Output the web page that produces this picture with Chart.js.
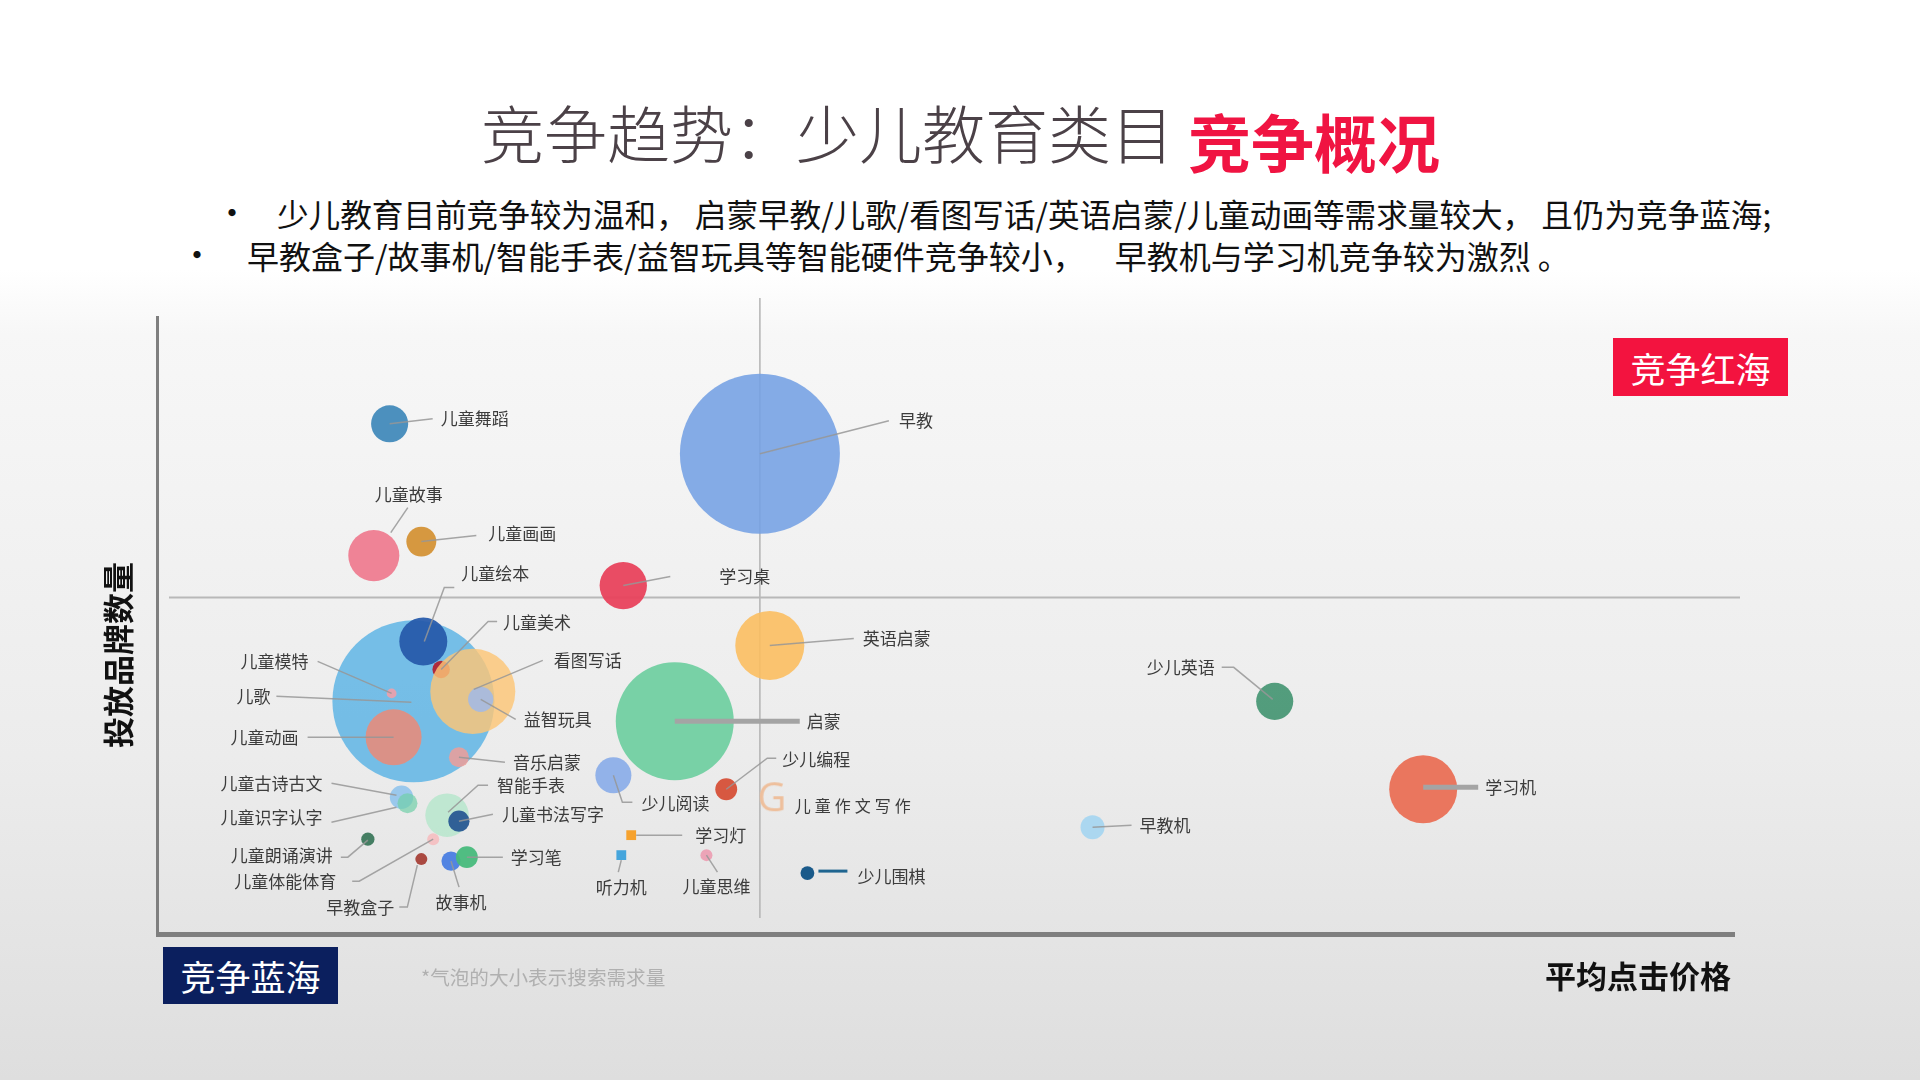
<!DOCTYPE html>
<html lang="zh-CN">
<head>
<meta charset="utf-8">
<title>竞争趋势：少儿教育类目竞争概况</title>
<script src="https://cdn.jsdelivr.net/npm/chart.js@4.4.1/dist/chart.umd.min.js"></script>
<style>
  html, body { margin: 0; padding: 0; }
  body {
    width: 1920px; height: 1080px; position: relative; overflow: hidden;
    font-family: "Noto Sans CJK SC", "Noto Sans", sans-serif;
    background: linear-gradient(to bottom, #ffffff 0%, #ffffff 25%, #f7f7f7 31%, #ececec 70%, #dedede 100%);
  }
  #wrap { position: absolute; left: 0; top: 0; width: 1920px; height: 1080px; }
  .abs { position: absolute; white-space: nowrap; }
  .t-gray { left: 481px; top: 99px; font-size: 63px; line-height: 63px; font-weight: 300; color: #4b4147; }
  .t-red { left: 1188px; top: 108px; font-size: 63px; line-height: 63px; font-weight: 700; color: #f01442; }
  .bl { line-height: 32px; color: #111; }
  .dot { font-size: 34px; }
  .box { display: flex; align-items: center; justify-content: center; color: #fff; font-size: 35px; }
  .red { left: 1613px; top: 338px; width: 175px; height: 58px; background: #f3133f; }
  .blue { left: 163px; top: 947px; width: 175px; height: 57px; background: #0b1f5e; }
  .note { left: 421px; top: 966px; font-size: 19.6px; line-height: 22px; color: #b0b0b0; }
  .xt { left: 1545px; top: 958px; font-size: 31px; line-height: 34px; font-weight: 700; color: #111; }
  .yt { left: 117px; top: 655px; font-size: 31px; line-height: 34px; font-weight: 700; color: #111;
        transform: translate(-50%, -50%) rotate(-90deg); }
</style>
</head>
<body>
<div class="abs t-gray">竞争趋势：少儿教育类目</div>
<div class="abs t-red">竞争概况</div>
<div class="abs bl dot" style="left:215px;top:196px;">•</div>
<div class="abs bl" style="left:277px;top:197px;font-size:31.6px;">少儿教育目前竞争较为温和， 启蒙早教/儿歌/看图写话/英语启蒙/儿童动画等需求量较大， 且仍为竞争蓝海;</div>
<div class="abs bl dot" style="left:180px;top:238px;">•</div>
<div class="abs bl" style="left:247px;top:239px;font-size:32px;">早教盒子/故事机/智能手表/益智玩具等智能硬件竞争较小，<span style="margin-left:30px;">早教机与学习机竞争较为激烈 。</span></div>
<div id="wrap"><canvas id="chart"></canvas></div>
<div class="abs box red">竞争红海</div>
<div class="abs box blue">竞争蓝海</div>
<div class="abs note">*气泡的大小表示搜索需求量</div>
<div class="abs xt">平均点击价格</div>
<div class="abs yt">投放品牌数量</div>
<script>
// 类目 (画的顺序: 大气泡在下)
var names = ['早教', '儿歌', '启蒙', '儿童绘本', '儿童美术', '看图写话', '儿童动画', '儿童模特', '益智玩具', '音乐启蒙',
             '英语启蒙', '学习桌', '儿童舞蹈', '儿童故事', '儿童画画', '少儿阅读', '少儿编程', '儿童作文写作', '少儿围棋', '学习灯',
             '听力机', '儿童思维', '少儿英语', '学习机', '早教机', '儿童古诗古文', '儿童识字认字', '智能手表', '儿童书法写字', '儿童朗诵演讲',
             '儿童体能体育', '早教盒子', '故事机', '学习笔'];
// 平均点击价格 (x)
var price = [3.05, 1.30, 2.62, 1.35, 1.44, 1.60, 1.20, 1.19, 1.64, 1.53,
             3.10, 2.36, 1.18, 1.10, 1.34, 2.31, 2.88, 3.11, 3.29, 2.40,
             2.35, 2.78, 5.65, 6.40, 4.73, 1.24, 1.27, 1.47, 1.53, 1.07,
             1.40, 1.34, 1.49, 1.57];
// 投放品牌数量 (y)
var brands = [242, 118, 108, 148, 134, 123, 100, 122, 119, 90,
              146, 176, 257, 191, 198, 81, 74, 69, 32, 51,
              41, 41, 118, 74, 55, 70, 67, 61, 58, 49,
              49, 39, 38, 40];
// 搜索需求量 (气泡大小)
var demand = [1600, 1640, 870, 144, 19, 452, 196, 6, 40, 25,
              298, 140, 86, 163, 56, 81, 30, 16, 12, 12,
              12, 9, 86, 289, 36, 34, 25, 118, 28, 11,
              9, 9, 23, 30];
// 分界线 (均值)
var avgPrice = 3.05;
var avgBrands = 170;

var colors = ['rgba(116,160,228,0.88)', 'rgba(110,186,230,0.95)', 'rgba(110,206,160,0.92)', 'rgba(40,92,172,0.95)',
              'rgba(178,36,52,0.95)', 'rgba(252,198,118,0.82)', 'rgba(236,138,118,0.85)', 'rgba(240,160,170,0.9)',
              'rgba(168,186,222,0.95)', 'rgba(238,158,152,0.85)', 'rgba(251,190,96,0.9)', 'rgba(232,66,92,0.95)',
              'rgba(66,138,186,0.95)', 'rgba(238,124,144,0.95)', 'rgba(212,146,54,0.95)', 'rgba(138,172,232,0.92)',
              'rgba(214,80,56,0.95)', '#f0c6a4', '#1a5a8a', '#f6a22e', '#45a5dc', 'rgba(236,160,180,0.95)',
              'rgba(74,152,118,0.95)', 'rgba(234,112,86,0.95)', 'rgba(168,214,240,0.95)', 'rgba(150,198,236,0.95)',
              'rgba(112,206,168,0.7)', 'rgba(176,230,200,0.75)', 'rgba(40,88,146,0.95)', 'rgba(60,120,92,0.95)',
              'rgba(245,190,192,0.9)', 'rgba(166,64,56,0.95)', 'rgba(74,126,226,0.95)', 'rgba(72,186,124,0.95)'];

// "G" 标记 (儿童作文写作)
var gMark = document.createElement('canvas');
gMark.width = 44; gMark.height = 48;
var gc = gMark.getContext('2d');
gc.font = '40px "Open Sans", "Noto Sans", sans-serif';
gc.fillStyle = '#eebf9c';
gc.textAlign = 'center';
gc.textBaseline = 'middle';
gc.fillText('G', 22, 25);

var shapes = names.map(function(n){
    if (n == '学习灯' || n == '听力机') return 'rect';
    if (n == '儿童作文写作') return gMark;
    return 'circle';
});

// 标签与引线 (相对气泡中心, px)
var labelLayout = [
    {lead: [[0,0],[129,-33]], at: [139,-33], align: 'left'},
    {lead: [[-2,1],[-137,-5]], at: [-143,-5], align: 'right'},
    {lead: [[0,0],[125,0]], at: [132,0], align: 'left', w: 5},
    {lead: [[1,0],[21,-54],[31,-54]], at: [38,-68], align: 'left'},
    {lead: [[0,0],[47,-48],[56,-48]], at: [62,-47], align: 'left'},
    {lead: [[1,-2],[70,-31]], at: [81,-31], align: 'left'},
    {lead: [[0,0],[-86,0]], at: [-95,0], align: 'right'},
    {lead: [[0,0],[-74,-32]], at: [-83,-32], align: 'right'},
    {lead: [[0,0],[35,20]], at: [43,20], align: 'left'},
    {lead: [[0,0],[46,5]], at: [54,5], align: 'left'},
    {lead: [[0,0],[84,-7]], at: [93,-7], align: 'left'},
    {lead: [[0,0],[47,-9]], at: [96,-9], align: 'left'},
    {lead: [[0,0],[43,-5]], at: [51,-5], align: 'left'},
    {lead: [[17,-23],[34,-48]], at: [35,-61], align: 'center'},
    {lead: [[0,0],[55,-6]], at: [67,-8], align: 'left'},
    {lead: [[0,0],[9,27],[19,27]], at: [28,28], align: 'left'},
    {lead: [[0,0],[41,-31],[50,-31]], at: [56,-30], align: 'left'},
    {lead: [], at: [23,7], align: 'left', spaced: 20},
    {lead: [[11,-2],[40,-2]], at: [50,3], align: 'left', w: 3, c: '#1f6590'},
    {lead: [[5,0],[51,0]], at: [64,0], align: 'left'},
    {lead: [[0,5],[-3,17]], at: [0,32], align: 'center'},
    {lead: [[0,0],[11,17]], at: [10,31], align: 'center'},
    {lead: [[-2,-2],[-41,-34],[-53,-34]], at: [-60,-34], align: 'right'},
    {lead: [[0,-2],[55,-2]], at: [62,-2], align: 'left', w: 5},
    {lead: [[0,0],[39,-2]], at: [47,-2], align: 'left'},
    {lead: [[-5,-2],[-70,-14]], at: [-79,-14], align: 'right'},
    {lead: [[-11,4],[-76,19]], at: [-85,14], align: 'right'},
    {lead: [[1,-3],[31,-30],[41,-30]], at: [50,-30], align: 'left'},
    {lead: [[0,0],[34,-7]], at: [43,-7], align: 'left'},
    {lead: [[0,1],[-20,18],[-27,18]], at: [-35,16], align: 'right'},
    {lead: [[0,0],[-74,42],[-81,42]], at: [-97,42], align: 'right'},
    {lead: [[-4,6],[-14,48],[-22,48]], at: [-27,48], align: 'right'},
    {lead: [[0,0],[8,26]], at: [10,41], align: 'center'},
    {lead: [[0,0],[36,0]], at: [44,0], align: 'left'}
];

function genPoints(){
    var pts = [];
    names.forEach(function(n, i){
        pts.push({x: price[i], y: brands[i], r: 2 * Math.sqrt(demand[i])});
    });
    return pts;
}

// 坐标轴和象限分界线
var quadrantLines = {
    id: 'quadrantLines',
    beforeDatasetsDraw: function(chart){
        var ctx = chart.ctx, a = chart.chartArea;
        var qx = chart.scales.x.getPixelForValue(avgPrice);
        var qy = chart.scales.y.getPixelForValue(avgBrands);
        ctx.save();
        ctx.strokeStyle = '#b3b3b3';
        ctx.lineWidth = 1.5;
        ctx.beginPath(); ctx.moveTo(qx, a.top); ctx.lineTo(qx, a.bottom - 19); ctx.stroke();
        ctx.strokeStyle = '#b8b8b8';
        ctx.lineWidth = 2;
        ctx.beginPath(); ctx.moveTo(a.left + 13, qy); ctx.lineTo(a.right, qy); ctx.stroke();
        ctx.strokeStyle = '#7f7f7f';
        ctx.lineWidth = 3;
        ctx.beginPath(); ctx.moveTo(a.left + 1.5, a.top + 18); ctx.lineTo(a.left + 1.5, a.bottom); ctx.stroke();
        ctx.lineWidth = 5;
        ctx.beginPath(); ctx.moveTo(a.left, a.bottom - 2.5); ctx.lineTo(a.right - 5, a.bottom - 2.5); ctx.stroke();
        ctx.restore();
    }
};

// 气泡标签
var bubbleLabels = {
    id: 'bubbleLabels',
    afterDatasetsDraw: function(chart){
        var ctx = chart.ctx;
        var meta = chart.getDatasetMeta(0);
        ctx.save();
        meta.data.forEach(function(el, i){
            var L = labelLayout[i];
            var cx = el.x, cy = el.y;
            if (L.lead.length){
                ctx.strokeStyle = L.c || (L.w ? '#a4a4a4' : 'rgba(150,150,150,0.85)');
                ctx.lineWidth = L.w || 1.5;
                ctx.beginPath();
                L.lead.forEach(function(p, k){
                    if (k == 0) ctx.moveTo(cx + p[0], cy + p[1]);
                    else ctx.lineTo(cx + p[0], cy + p[1]);
                });
                ctx.stroke();
            }
            ctx.fillStyle = '#3c3c3c';
            ctx.textBaseline = 'middle';
            var tx = cx + L.at[0], ty = cy + L.at[1];
            if (L.spaced){
                ctx.font = '16px "Noto Sans CJK SC"';
                ctx.textAlign = 'left';
                names[i].split('').forEach(function(ch, k){
                    ctx.fillText(ch, tx + k * L.spaced, ty);
                });
            } else {
                ctx.font = '17px "Noto Sans CJK SC"';
                ctx.textAlign = L.align;
                ctx.fillText(names[i], tx, ty);
            }
        });
        ctx.restore();
    }
};

var ctx = document.getElementById('chart').getContext('2d');
var bubble = new Chart(ctx, {
    type: 'bubble',
    data: {
        labels: names,
        datasets: [{
            label: '搜索需求量',
            data: genPoints(),
            backgroundColor: colors,
            borderWidth: 0,
            pointStyle: shapes
        }]
    },
    options: {
        responsive: true,
        maintainAspectRatio: false,
        animation: false,
        events: [],
        layout: { padding: { left: 156, top: 298, right: 180, bottom: 143 } },
        scales: {
            x: { type: 'linear', min: 0, max: 8, display: false },
            y: { type: 'linear', min: 0, max: 320, display: false }
        },
        plugins: {
            legend: { display: false },
            tooltip: { enabled: false }
        }
    },
    plugins: [quadrantLines, bubbleLabels]
});
</script>
</body>
</html>
